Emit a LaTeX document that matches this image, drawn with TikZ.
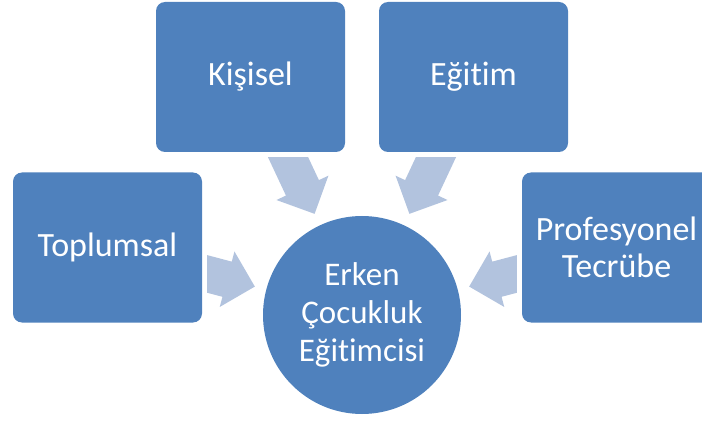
\documentclass[tikz,border=0pt]{standalone}
\usepackage{fontspec}
\setmainfont[Ligatures={NoCommon}]{Carlito}
\usepackage{xcolor}
\usepackage{tikz}
\usetikzlibrary{shapes.arrows}

\definecolor{kutumavi}{HTML}{4F81BD}
\definecolor{okmavi}{HTML}{B2C3DE}

\begin{document}
\begin{tikzpicture}[x=1pt, y=1pt,
    card/.style={rectangle, rounded corners=9pt, fill=kutumavi, text=white,
        minimum width=189pt, minimum height=150pt, inner sep=0pt, align=center,
        font=\fontsize{34}{37}\selectfont},
    hub/.style={circle, fill=kutumavi, text=white, minimum size=198pt,
        inner sep=0pt, align=center, font=\fontsize{33}{38}\selectfont},
    feed/.style={single arrow, fill=okmavi, draw=none, sloped, allow upside down,
        inner xsep=0pt, inner ysep=18pt, single arrow head extend=10.5pt,
        minimum height=#1, anchor=tip}]
    \useasboundingbox (0,0) rectangle (702,421);

    \node[hub] (merkez) at (362,106) {Erken\\Çocukluk\\Eğitimcisi};

    \node[card] (kisisel) at (250.5,344) {Kişisel};
    \node[card] (egitim) at (473.5,344) {Eğitim};
    \node[card] (toplumsal) at (107.5,173.5) {Toplumsal};
    \node[card] (tecrube) at (616.5,173.5) {Profesyonel\\Tecrübe};

    % block arrows into the circle, tails cut parallel to the box edge
    \begin{scope}
        \clip ([yshift=-5pt]kisisel.south west) rectangle (merkez.south east);
        \path (kisisel.center) -- (merkez.center) node[feed=80pt, pos=0.576] (okkisisel) {};
    \end{scope}
    \begin{scope}
        \clip ([yshift=-5pt]egitim.south east) rectangle (merkez.south west);
        \path (egitim.center) -- (merkez.center) node[feed=80pt, pos=0.576] (okegitim) {};
    \end{scope}
    \begin{scope}
        \clip ([xshift=5pt]toplumsal.north east) rectangle (merkez.south);
        \path (toplumsal.center) -- (merkez.center) node[feed=65pt, pos=0.58] (oktoplumsal) {};
    \end{scope}
    \begin{scope}
        \clip ([xshift=-5pt]tecrube.north west) rectangle (merkez.south);
        \path (tecrube.center) -- (merkez.center) node[feed=65pt, pos=0.58] (oktecrube) {};
    \end{scope}
\end{tikzpicture}
\end{document}
